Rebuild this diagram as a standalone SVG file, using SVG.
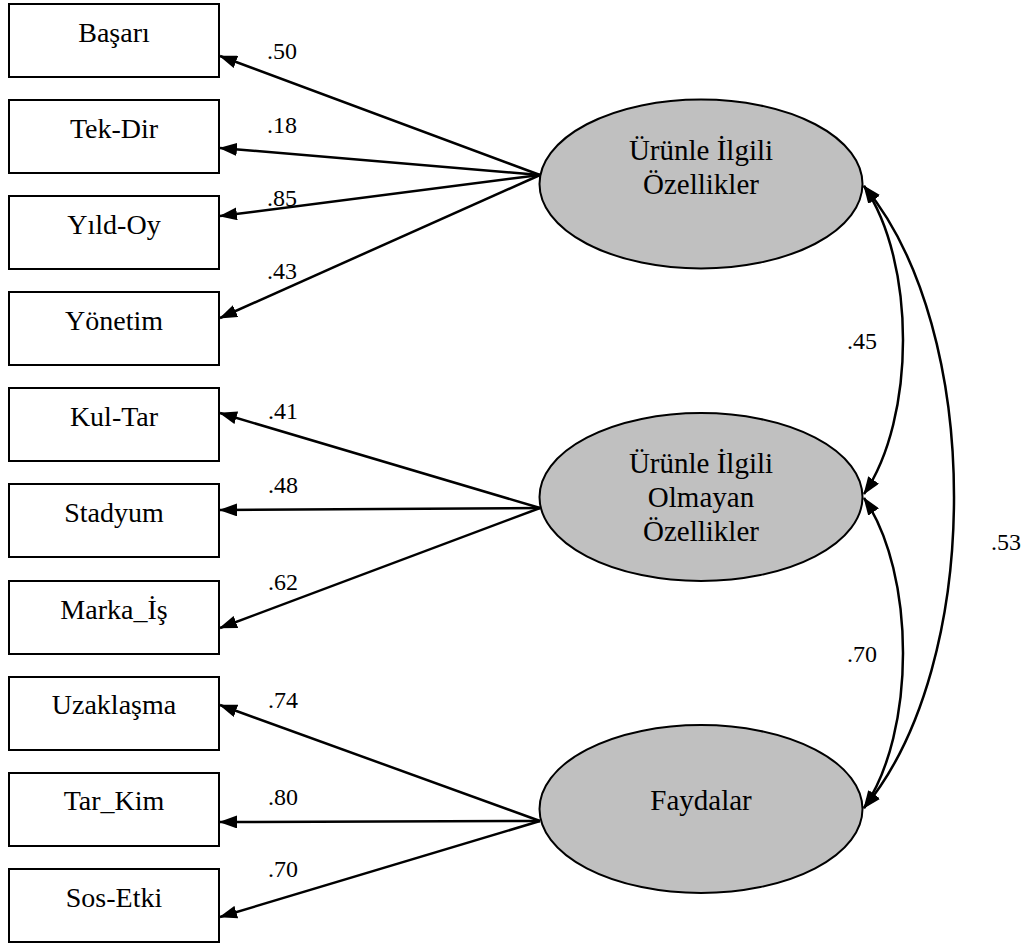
<svg xmlns="http://www.w3.org/2000/svg" width="1031" height="943" viewBox="0 0 1031 943" font-family="'Liberation Serif', 'DejaVu Serif', serif">
  <style>
    .box { fill: #ffffff; stroke: #000000; stroke-width: 2; }
    .latent { fill: #c0c0c0; stroke: #000000; stroke-width: 2; }
    .name { font-size: 28px; fill: #000000; text-anchor: middle; }
    .factor { font-size: 29px; fill: #000000; text-anchor: middle; }
    .coef { font-size: 24px; fill: #000000; }
    .path { fill: none; stroke: #000000; stroke-width: 2.5; }
  </style>
  <defs>
    <marker id="head" markerUnits="userSpaceOnUse" viewBox="0 0 18 13" refX="17" refY="6.5" markerWidth="18" markerHeight="13" orient="auto-start-reverse">
      <path d="M0,0 L18,6.5 L0,13 z" fill="#000000"/>
    </marker>
  </defs>

  <rect width="1031" height="943" fill="#ffffff"/>

  <!-- observed indicators -->
  <g id="basari"><rect class="box" x="9" y="4" width="210" height="73"/><text class="name" x="114" y="42" font-family="Liberation Serif, serif">Başarı</text></g>
  <g id="tek-dir"><rect class="box" x="9" y="100" width="210" height="73"/><text class="name" x="114" y="138" font-family="Liberation Serif, serif">Tek-Dir</text></g>
  <g id="yild-oy"><rect class="box" x="9" y="196" width="210" height="73"/><text class="name" x="114" y="234" font-family="Liberation Serif, serif">Yıld-Oy</text></g>
  <g id="yonetim"><rect class="box" x="9" y="292" width="210" height="73"/><text class="name" x="114" y="330" font-family="Liberation Serif, serif">Yönetim</text></g>
  <g id="kul-tar"><rect class="box" x="9" y="388" width="210" height="73"/><text class="name" x="114" y="426" font-family="Liberation Serif, serif">Kul-Tar</text></g>
  <g id="stadyum"><rect class="box" x="9" y="484" width="210" height="73"/><text class="name" x="114" y="522" font-family="Liberation Serif, serif">Stadyum</text></g>
  <g id="marka-is"><rect class="box" x="9" y="581" width="210" height="73"/><text class="name" x="114" y="619" font-family="Liberation Serif, serif">Marka_İş</text></g>
  <g id="uzaklasma"><rect class="box" x="9" y="677" width="210" height="73"/><text class="name" x="114" y="714" font-family="Liberation Serif, serif">Uzaklaşma</text></g>
  <g id="tar-kim"><rect class="box" x="9" y="773" width="210" height="73"/><text class="name" x="114" y="810" font-family="Liberation Serif, serif">Tar_Kim</text></g>
  <g id="sos-etki"><rect class="box" x="9" y="869" width="210" height="73"/><text class="name" x="114" y="907" font-family="Liberation Serif, serif">Sos-Etki</text></g>

  <!-- latent factors -->
  <g id="urunle-ilgili" font-family="Liberation Serif, serif">
    <ellipse class="latent" cx="701" cy="184" rx="161.5" ry="84.5"/>
    <text class="factor" x="701" y="160">Ürünle İlgili</text>
    <text class="factor" x="701" y="194">Özellikler</text>
  </g>
  <g id="urunle-ilgili-olmayan" font-family="Liberation Serif, serif">
    <ellipse class="latent" cx="701" cy="497" rx="161.5" ry="84"/>
    <text class="factor" x="701" y="473">Ürünle İlgili</text>
    <text class="factor" x="701" y="507">Olmayan</text>
    <text class="factor" x="701" y="541">Özellikler</text>
  </g>
  <g id="faydalar" font-family="Liberation Serif, serif">
    <ellipse class="latent" cx="701" cy="809" rx="161.5" ry="84"/>
    <text class="factor" x="701" y="810">Faydalar</text>
  </g>

  <!-- loadings and factor covariances -->
  <g id="connectors" font-family="Liberation Serif, serif">
    <line class="path" x1="540" y1="175" x2="220" y2="56" marker-end="url(#head)"/>
    <line class="path" x1="540" y1="175" x2="220" y2="148" marker-end="url(#head)"/>
    <line class="path" x1="540" y1="175" x2="220" y2="216" marker-end="url(#head)"/>
    <line class="path" x1="540" y1="175" x2="220" y2="318" marker-end="url(#head)"/>

    <line class="path" x1="540" y1="508" x2="220" y2="413" marker-end="url(#head)"/>
    <line class="path" x1="540" y1="508" x2="220" y2="510" marker-end="url(#head)"/>
    <line class="path" x1="540" y1="508" x2="220" y2="628" marker-end="url(#head)"/>

    <line class="path" x1="540" y1="821" x2="220" y2="705" marker-end="url(#head)"/>
    <line class="path" x1="540" y1="821" x2="220" y2="822" marker-end="url(#head)"/>
    <line class="path" x1="540" y1="821" x2="220" y2="917" marker-end="url(#head)"/>

    <path class="path" d="M864,186 C916,262 916,418 864,494" marker-start="url(#head)" marker-end="url(#head)"/>
    <path class="path" d="M864,498 C916,574 916,732 864,808" marker-start="url(#head)" marker-end="url(#head)"/>
    <path class="path" d="M864,186 C984,330 984,664 864,808" marker-start="url(#head)" marker-end="url(#head)"/>

    <text class="coef" x="267" y="59">.50</text>
    <text class="coef" x="267" y="133">.18</text>
    <text class="coef" x="267" y="206">.85</text>
    <text class="coef" x="267" y="279">.43</text>
    <text class="coef" x="268" y="419">.41</text>
    <text class="coef" x="268" y="493">.48</text>
    <text class="coef" x="268" y="590">.62</text>
    <text class="coef" x="268" y="708">.74</text>
    <text class="coef" x="268" y="805">.80</text>
    <text class="coef" x="268" y="877">.70</text>
    <text class="coef" x="847" y="349">.45</text>
    <text class="coef" x="847" y="662">.70</text>
    <text class="coef" x="991" y="550">.53</text>
  </g>
</svg>
